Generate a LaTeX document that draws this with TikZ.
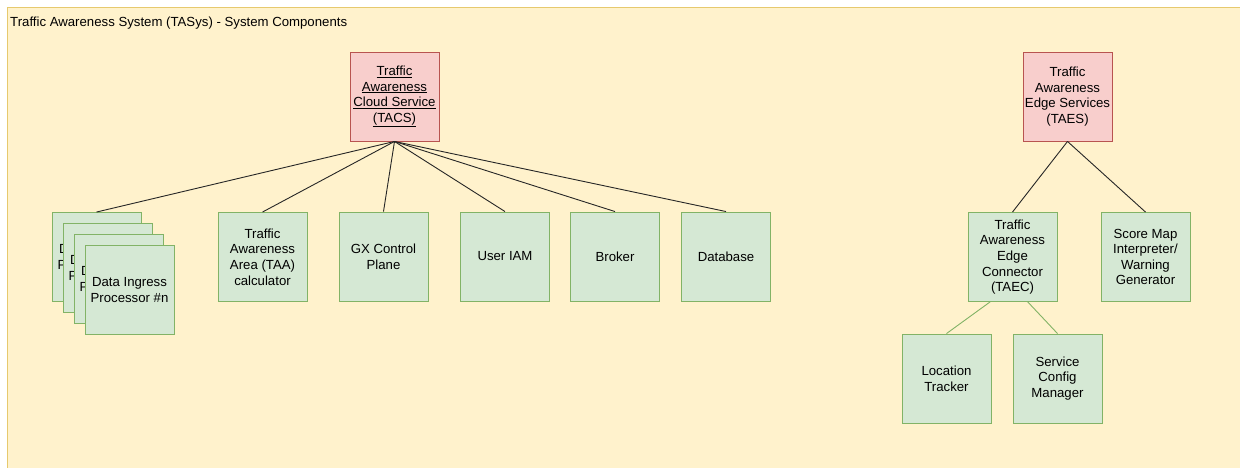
\documentclass[tikz,border=0pt]{standalone}
\usepackage{fontspec}
\setmainfont{Liberation Sans}
\usetikzlibrary{calc}
\definecolor{panelfill}{HTML}{FFF2CC}
\definecolor{paneldraw}{HTML}{E6C96E}
\definecolor{compfill}{HTML}{D5E8D4}
\definecolor{compdraw}{HTML}{82B366}
\definecolor{svcfill}{HTML}{F8CECC}
\definecolor{svcdraw}{HTML}{B85450}
\tikzset{
  base/.style={rectangle, minimum width=89pt, minimum height=89pt, inner sep=1pt,
    align=center, font=\fontsize{13.2}{15.6}\selectfont, line width=0.9pt},
  comp/.style={base, fill=compfill, draw=compdraw},
  svc/.style={base, fill=svcfill, draw=svcdraw},
  link/.style={draw=black!85, line width=0.9pt},
  sublink/.style={draw=compdraw, line width=0.9pt}
}
\begin{document}
\begin{tikzpicture}[x=1pt, y=-1pt]
  \useasboundingbox (0,0) rectangle (1240,468);
  \begin{scope}
    \clip (0,0) rectangle (1240,468);
    \draw[fill=panelfill, draw=paneldraw, line width=1.5pt] (7.5,7.5) rectangle (1250,480);
  \end{scope}
  \node[anchor=west, inner sep=0pt, font=\fontsize{13.2}{15}\selectfont] (title) at (10,23)
    {Traffic Awareness System (TASys) - System Components};

  % cloud service and its components
  \node[svc] (tacs) at (394.5,96.5)
    {\underline{Traffic}\\\underline{Awareness}\\\underline{Cloud Service}\\\underline{(TACS)}};
  \node[comp] (di1) at (96.5,257) {Data Ingress\\Processor \#1};
  \node[comp] (di2) at (107.5,268) {Data Ingress\\Processor \#2};
  \node[comp] (di3) at (118.5,279) {Data Ingress\\Processor \#3};
  \node[comp] (di4) at (129.5,290) {Data Ingress\\Processor \#n};
  \node[comp] (taa) at (262.5,257) {Traffic\\Awareness\\Area (TAA)\\calculator};
  \node[comp] (gx) at (383.5,256.5) {GX Control\\Plane};
  \node[comp] (iam) at (505,256.5) {User IAM};
  \node[comp] (broker) at (615,256.5) {Broker};
  \node[comp] (db) at (726,256.5) {Database};

  \foreach \t in {di1,taa,gx,iam,broker,db}
    \draw[link] (tacs.south) -- (\t.north);

  % edge services and their components
  \node[svc] (taes) at (1067.5,96.5) {Traffic\\Awareness\\Edge Services\\(TAES)};
  \node[comp] (taec) at (1012.5,257) {Traffic\\Awareness\\Edge\\Connector\\(TAEC)};
  \node[comp] (score) at (1145.5,257) {Score Map\\Interpreter/\\Warning\\Generator};
  \node[comp] (loc) at (946.5,378.5) {Location\\Tracker};
  \node[comp] (scm) at (1057.5,378.5) {Service\\Config\\Manager};

  \draw[link] (taes.south) -- (taec.north);
  \draw[link] (taes.south) -- (score.north);
  \draw[sublink] ($(taec.south west)!0.25!(taec.south east)$) -- (loc.north);
  \draw[sublink] ($(taec.south west)!0.67!(taec.south east)$) -- (scm.north);
\end{tikzpicture}
\end{document}
